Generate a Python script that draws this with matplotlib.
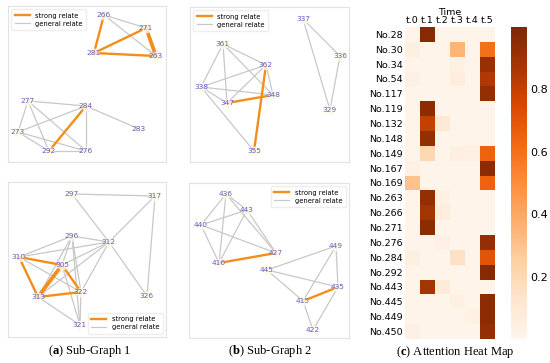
import matplotlib.pyplot as plt
from matplotlib.lines import Line2D
import numpy as np

plt.rcParams['font.family'] = ['DejaVu Sans']
plt.rcParams['mathtext.fontset'] = 'custom'
plt.rcParams['mathtext.bf'] = 'Liberation Serif:bold'
plt.rcParams['mathtext.rm'] = 'Liberation Serif'

W, H = 550, 363

# ---- graph data: node positions (image pixels) and edges ----
pos_1a = {'266': (104, 15), '271': (146, 28), '281': (94, 53), '263': (156, 56),
          '277': (28, 101), '284': (86, 106), '273': (18, 132), '283': (139, 129),
          '292': (49, 151), '276': (86, 151)}
strong_1a = [('266', '281'), ('281', '271'), ('281', '263'), ('292', '284')]
thick_1a = [('271', '263')]
general_1a = [('266', '271'), ('266', '263'), ('277', '284'), ('277', '273'),
              ('277', '292'), ('277', '276'), ('273', '284'), ('273', '292'),
              ('273', '276'), ('284', '276'), ('284', '283'), ('292', '276')]

pos_2a = {'337': (303, 19), '336': (340, 56), '329': (330, 110), '361': (223, 44),
          '362': (266, 65), '338': (201, 87), '348': (273, 95), '347': (227, 103),
          '355': (254, 151)}
strong_2a = [('347', '348'), ('362', '355')]
thick_2a = []
general_2a = [('337', '336'), ('337', '329'), ('336', '329'), ('361', '338'),
              ('361', '347'), ('361', '362'), ('361', '348'), ('362', '338'),
              ('362', '347'), ('362', '348'), ('338', '348'), ('338', '347'),
              ('338', '355')]

pos_1b = {'297': (72, 194), '317': (155, 196), '296': (72, 236), '312': (109, 242),
          '310': (19, 257), '305': (62, 265), '322': (81, 292), '313': (38, 297),
          '326': (147, 296), '321': (80, 325)}
strong_1b = [('310', '305'), ('310', '313'), ('305', '322'), ('313', '322')]
thick_1b = [('313', '305')]
general_1b = [('297', '317'), ('297', '312'), ('317', '312'), ('317', '326'),
              ('312', '326'), ('312', '296'), ('312', '310'), ('312', '305'),
              ('312', '313'), ('312', '322'), ('296', '310'), ('296', '313'),
              ('296', '322'), ('296', '321'), ('296', '305'), ('310', '322'),
              ('313', '321'), ('322', '321'), ('305', '321')]

pos_2b = {'436': (226, 194), '443': (247, 210), '440': (201, 225), '427': (276, 253),
          '416': (219, 263), '449': (336, 246), '445': (267, 270), '435': (338, 287),
          '415': (303, 301), '422': (313, 330)}
strong_2b = [('416', '427'), ('415', '435')]
thick_2b = []
general_2b = [('436', '443'), ('436', '440'), ('436', '416'), ('436', '427'),
              ('443', '440'), ('443', '416'), ('443', '427'), ('440', '416'),
              ('440', '427'), ('449', '445'), ('449', '415'), ('449', '435'),
              ('445', '435'), ('445', '415'), ('415', '422'), ('435', '422')]

# ---- heat map data ----
nodes = ['No.28', 'No.30', 'No.34', 'No.54', 'No.117', 'No.119', 'No.132',
         'No.148', 'No.149', 'No.167', 'No.169', 'No.263', 'No.266', 'No.271',
         'No.276', 'No.284', 'No.292', 'No.443', 'No.445', 'No.449', 'No.450']
times = ['t.0', 't.1', 't.2', 't.3', 't.4', 't.5']
attn = np.array([
    [0.01, 0.97, 0.01, 0.01, 0.01, 0.01],
    [0.04, 0.01, 0.01, 0.35, 0.01, 0.60],
    [0.01, 0.01, 0.01, 0.03, 0.01, 0.92],
    [0.03, 0.01, 0.01, 0.06, 0.01, 0.85],
    [0.01, 0.01, 0.01, 0.01, 0.01, 0.93],
    [0.01, 0.95, 0.01, 0.01, 0.01, 0.01],
    [0.01, 0.80, 0.10, 0.01, 0.01, 0.01],
    [0.01, 0.93, 0.01, 0.01, 0.01, 0.01],
    [0.01, 0.20, 0.01, 0.05, 0.03, 0.65],
    [0.03, 0.01, 0.01, 0.01, 0.01, 0.95],
    [0.30, 0.01, 0.01, 0.01, 0.01, 0.65],
    [0.01, 0.93, 0.03, 0.01, 0.01, 0.01],
    [0.01, 0.88, 0.06, 0.01, 0.01, 0.01],
    [0.01, 0.95, 0.01, 0.01, 0.01, 0.01],
    [0.01, 0.01, 0.03, 0.01, 0.01, 0.93],
    [0.04, 0.01, 0.01, 0.15, 0.01, 0.70],
    [0.01, 0.01, 0.01, 0.01, 0.01, 0.97],
    [0.01, 0.88, 0.08, 0.01, 0.01, 0.01],
    [0.01, 0.01, 0.01, 0.03, 0.01, 0.95],
    [0.01, 0.01, 0.01, 0.01, 0.03, 0.95],
    [0.03, 0.01, 0.01, 0.01, 0.01, 0.93],
])

ORANGE = '#f28e1c'
GRAY = '#c8c8c8'
LABEL = '#6a5fbf'

fig = plt.figure(figsize=(W / 100, H / 100), dpi=100)


def px_axes(x0, y0, x1, y1):
    return fig.add_axes([x0 / W, 1 - y1 / H, (x1 - x0) / W, (y1 - y0) / H])


def draw_graph(box, pos, strong, thick, general, legend_loc):
    x0, y0, x1, y1 = box
    ax = px_axes(x0, y0, x1, y1)
    for a, b in general:
        ax.plot([pos[a][0], pos[b][0]], [pos[a][1], pos[b][1]],
                color=GRAY, lw=0.9, zorder=1)
    for a, b in strong:
        ax.plot([pos[a][0], pos[b][0]], [pos[a][1], pos[b][1]],
                color=ORANGE, lw=1.7, zorder=2)
    for a, b in thick:
        ax.plot([pos[a][0], pos[b][0]], [pos[a][1], pos[b][1]],
                color=ORANGE, lw=2.7, zorder=2)
    xs = [p[0] for p in pos.values()]
    ys = [p[1] for p in pos.values()]
    ax.scatter(xs, ys, s=50, color='#fffbe6', alpha=0.8, zorder=3, linewidths=0)
    for name, (x, y) in pos.items():
        ax.text(x, y, name, color=LABEL, fontsize=5.4, ha='center', va='center', zorder=4)
    ax.set_xlim(x0, x1)
    ax.set_ylim(y1, y0)
    ax.set_xticks([])
    ax.set_yticks([])
    for s in ax.spines.values():
        s.set_color('#e2e2e2')
        s.set_linewidth(0.8)
    handles = [Line2D([], [], color=ORANGE, lw=1.7),
               Line2D([], [], color=GRAY, lw=0.9)]
    ax.legend(handles, ['strong relate', 'general relate'], loc=legend_loc,
              fontsize=4.9, frameon=True, framealpha=1, edgecolor='#eeeeee',
              handlelength=2.2, borderpad=0.5, labelspacing=0.3, fancybox=True)
    return ax


draw_graph((8, 6, 166, 162), pos_1a, strong_1a, thick_1a, general_1a, 'upper left')
draw_graph((190, 7, 349, 162), pos_2a, strong_2a, thick_2a, general_2a, 'upper left')
draw_graph((8, 182, 166, 337), pos_1b, strong_1b, thick_1b, general_1b, 'lower right')
draw_graph((189, 183, 349, 338), pos_2b, strong_2b, thick_2b, general_2b, 'upper right')

# heat map
hax = px_axes(405, 27, 495, 339)
im = hax.imshow(attn, cmap='Oranges', vmin=0, vmax=1, aspect='auto')
hax.set_xticks(range(len(times)))
hax.set_xticklabels(times, fontsize=6.8)
hax.set_yticks(range(len(nodes)))
hax.set_yticklabels(nodes, fontsize=6.8)
hax.xaxis.tick_top()
hax.xaxis.set_label_position('top')
hax.set_xlabel('Time', fontsize=6.8, labelpad=1)
hax.tick_params(length=0, pad=1.5)
for s in hax.spines.values():
    s.set_visible(False)

cax = px_axes(511, 27, 527, 339)
cb = fig.colorbar(im, cax=cax, ticks=[0.2, 0.4, 0.6, 0.8])
cb.outline.set_visible(False)
cb.ax.tick_params(length=0, pad=2, labelsize=8)

# captions
cap = dict(fontsize=9, family='Liberation Serif', ha='center', va='center')
fig.text(90 / W, 1 - 351 / H, r'($\mathbf{a}$) Sub-Graph 1', **cap)
fig.text(270 / W, 1 - 351 / H, r'($\mathbf{b}$) Sub-Graph 2', **cap)
fig.text(455 / W, 1 - 352 / H, r'($\mathbf{c}$) Attention Heat Map', **cap)

fig.savefig('out.png', dpi=100)
